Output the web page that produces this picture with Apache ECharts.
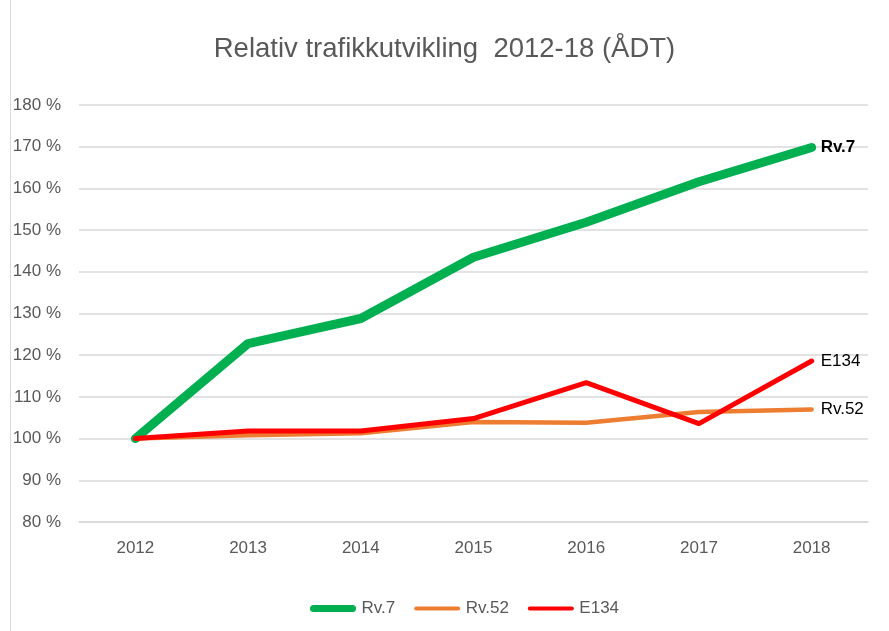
<!DOCTYPE html>
<html><head><meta charset="utf-8">
<script src="https://cdn.jsdelivr.net/npm/echarts@6/dist/echarts.min.js"></script>
<style>html,body{margin:0;padding:0;background:#fff}#c{width:889px;height:631px}</style>
</head><body><div id="c"></div>
<script>
const years = ['2012','2013','2014','2015','2016','2017','2018'];
const rv7 = [100, 122.8, 128.8, 143.5, 151.9, 161.6, 169.8];
const rv52 = [100, 100.8, 101.3, 104.0, 103.8, 106.4, 107.0];
const e134 = [100, 101.8, 101.8, 104.8, 113.4, 103.6, 118.6];
const FONT = 'Liberation Sans';
const chart = echarts.init(document.getElementById('c'), null, {renderer:'canvas'});
function ser(name, data, color, width, bold) {
  return {
    name, type:'line', data, symbol:'none', showSymbol:false,
    lineStyle:{color, width, cap:'round', join:'round'},
    itemStyle:{color},
    emphasis:{disabled:true},
    endLabel:{show:true, formatter:'{a}', distance:9, color:'#000', fontFamily:FONT, fontSize:17, fontWeight: bold?'bold':'normal'}
  };
}
const thick = 'path://M3.5,0 L42.5,0 A3.5,3.5 0 0 1 42.5,7 L3.5,7 A3.5,3.5 0 0 1 3.5,0 Z';
const thin = 'path://M0,0 M2,1.5 L44,1.5 A2,2 0 0 1 44,5.5 L2,5.5 A2,2 0 0 1 2,1.5 Z M46,7';
chart.setOption({
  animation:false,
  textStyle:{fontFamily:FONT},
  title:{text:'Relativ trafikkutvikling  2012-18 (ÅDT)', left:'center', top:30,
    textStyle:{fontFamily:FONT, fontSize:27.5, fontWeight:'normal', color:'#595959'}},
  legend:{bottom:9, left:305, itemWidth:47, itemHeight:7, itemGap:19,
    textStyle:{fontFamily:FONT, fontSize:17, color:'#595959'},
    data:[{name:'Rv.7', icon:thick}, {name:'Rv.52', icon:thin}, {name:'E134', icon:thin}]},
  grid:{left:79, right:21, top:105, bottom:109, containLabel:false},
  xAxis:{type:'category', data:years, boundaryGap:true,
    axisLine:{show:true, lineStyle:{color:'#d9d9d9', width:1.5}},
    axisTick:{show:false},
    axisLabel:{color:'#595959', fontSize:17, fontFamily:FONT, margin:18}},
  yAxis:{type:'value', min:80, max:180, interval:10,
    axisLine:{show:false}, axisTick:{show:false},
    splitLine:{lineStyle:{color:'#d9d9d9', width:1.5}},
    axisLabel:{formatter:'{value} %', color:'#595959', fontSize:17, fontFamily:FONT, margin:18}},
  graphic:[{type:'line', shape:{x1:10.5,y1:0,x2:10.5,y2:631}, style:{stroke:'#d9d9d9', lineWidth:1}}],
  series:[
    ser('Rv.7', rv7, '#00B050', 9, true),
    ser('Rv.52', rv52, '#ED7D31', 4.5, false),
    ser('E134', e134, '#FF0000', 5, false)
  ]
});
</script></body></html>
